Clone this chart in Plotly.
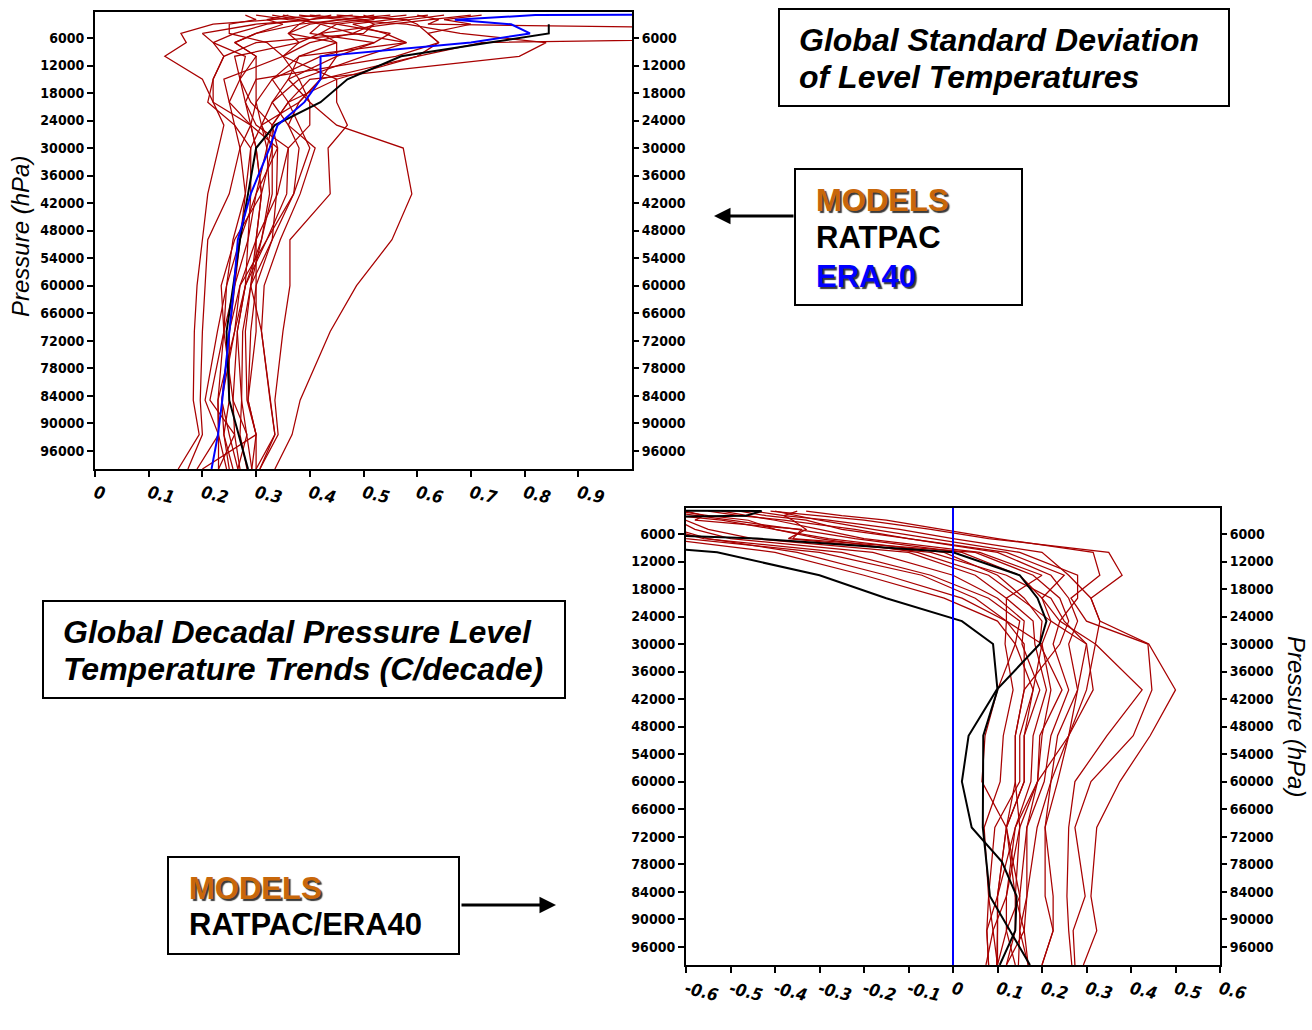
import plotly.graph_objects as go

# ---------------- data ----------------
levels = [1000, 2000, 3000, 5000, 7000, 10000, 15000, 20000, 25000, 30000,
          40000, 50000, 60000, 70000, 85000, 92500, 100000]

ratpac_levels = [3000, 5000, 7000, 10000, 15000, 20000, 25000, 30000, 40000,
                 50000, 70000, 85000, 100000]
era40_levels = [500, 700, 1000, 2000, 3000, 5000, 7000, 10000, 15000, 20000, 25000,
                30000, 40000, 50000, 60000, 70000, 77500, 85000, 92500, 100000]

# Panel 1: standard deviation of level temperatures (models)
sd_models = [
    [0.42, 0.33, 0.22, 0.16, 0.17, 0.13, 0.20, 0.22, 0.24, 0.23, 0.21, 0.20, 0.19, 0.185, 0.183, 0.194, 0.155],
    [0.48, 0.40, 0.30, 0.20, 0.22, 0.24, 0.22, 0.21, 0.26, 0.27, 0.25, 0.21, 0.205, 0.20, 0.196, 0.20, 0.173],
    [0.55, 0.46, 0.40, 0.36, 0.45, 0.38, 0.36, 0.40, 0.45, 0.574, 0.59, 0.553, 0.487, 0.438, 0.382, 0.367, 0.335],
    [0.50, 0.52, 0.45, 0.42, 0.38, 0.35, 0.45, 0.45, 0.47, 0.434, 0.438, 0.363, 0.363, 0.35, 0.335, 0.341, 0.307],
    [0.60, 0.64, 0.62, 1.90, 0.72, 0.60, 0.42, 0.38, 0.36, 0.41, 0.382, 0.345, 0.315, 0.31, 0.326, 0.335, 0.30],
    [0.38, 0.46, 0.58, 0.68, 0.84, 0.79, 0.40, 0.36, 0.33, 0.34, 0.338, 0.33, 0.30, 0.29, 0.285, 0.30, 0.292],
    [0.30, 0.36, 0.45, 0.55, 0.52, 0.42, 0.33, 0.30, 0.29, 0.30, 0.31, 0.30, 0.29, 0.275, 0.273, 0.27, 0.283],
    [0.65, 0.58, 0.52, 0.48, 0.58, 0.50, 0.38, 0.33, 0.31, 0.32, 0.325, 0.31, 0.28, 0.265, 0.257, 0.283, 0.266],
    [0.35, 0.40, 0.38, 0.30, 0.26, 0.30, 0.27, 0.25, 0.26, 0.29, 0.28, 0.27, 0.26, 0.25, 0.236, 0.24, 0.257],
    [0.45, 0.58, 0.60, 0.62, 0.64, 0.56, 0.30, 0.28, 0.30, 0.36, 0.357, 0.32, 0.27, 0.26, 0.229, 0.23, 0.245],
    [0.28, 0.30, 0.25, 0.25, 0.32, 0.35, 0.24, 0.25, 0.29, 0.34, 0.30, 0.285, 0.26, 0.24, 0.214, 0.26, 0.23],
    [0.70, 0.62, 0.55, 0.42, 0.45, 0.45, 0.36, 0.33, 0.36, 0.38, 0.37, 0.33, 0.29, 0.28, 0.283, 0.30, 0.20],
    [0.52, 0.46, 0.38, 0.36, 0.38, 0.26, 0.27, 0.29, 0.33, 0.32, 0.30, 0.27, 0.245, 0.228, 0.205, 0.23, 0.19],
    [0.40, 0.50, 0.52, 0.50, 0.30, 0.24, 0.22, 0.22, 0.29, 0.30, 0.31, 0.26, 0.235, 0.24, 0.257, 0.26, 0.27],
    [0.62, 0.55, 0.48, 0.54, 0.58, 0.38, 0.33, 0.36, 0.38, 0.40, 0.37, 0.32, 0.28, 0.265, 0.273, 0.283, 0.292],
    [0.33, 0.38, 0.42, 0.48, 0.40, 0.35, 0.38, 0.40, 0.40, 0.36, 0.34, 0.30, 0.27, 0.25, 0.25, 0.24, 0.25],
    [0.58, 0.50, 0.42, 0.40, 0.52, 0.45, 0.42, 0.38, 0.31, 0.29, 0.29, 0.285, 0.28, 0.26, 0.236, 0.25, 0.266],
    [0.72, 0.65, 0.70, 0.62, 0.64, 0.60, 0.45, 0.36, 0.33, 0.33, 0.31, 0.30, 0.30, 0.30, 0.285, 0.30, 0.30],
    [0.36, 0.32, 0.35, 0.30, 0.26, 0.30, 0.30, 0.30, 0.31, 0.33, 0.33, 0.31, 0.29, 0.31, 0.326, 0.335, 0.307],
    [0.44, 0.40, 0.32, 0.26, 0.22, 0.28, 0.27, 0.28, 0.29, 0.27, 0.28, 0.257, 0.245, 0.24, 0.229, 0.23, 0.23],
]
sd_ratpac = [0.845, 0.845, 0.735, 0.57, 0.47, 0.42, 0.335, 0.30, 0.285, 0.27, 0.245, 0.25, 0.285]
sd_era40 = [1.6, 1.4, 0.82, 0.67, 0.775, 0.81, 0.70, 0.42, 0.42, 0.39, 0.34, 0.325, 0.29,
            0.266, 0.259, 0.25, 0.244, 0.237, 0.229, 0.217]

# Panel 2: decadal trends (C/decade)
trend_models = [
    [-0.41, -0.30, -0.20, -0.05, 0.08, 0.35, 0.38, 0.31, 0.33, 0.44, 0.50, 0.443, 0.375, 0.323, 0.31, 0.323, 0.293],
    [-0.33, -0.25, -0.15, -0.02, 0.10, 0.315, 0.33, 0.265, 0.30, 0.438, 0.447, 0.405, 0.31, 0.274, 0.297, 0.27, 0.274],
    [-0.45, -0.38, -0.28, -0.12, 0.00, 0.20, 0.26, 0.31, 0.33, 0.32, 0.425, 0.346, 0.274, 0.26, 0.256, 0.26, 0.267],
    [-0.55, -0.48, -0.38, -0.22, -0.10, 0.12, 0.25, 0.20, 0.22, 0.30, 0.315, 0.26, 0.235, 0.207, 0.207, 0.225, 0.20],
    [-0.48, -0.42, -0.33, -0.25, -0.10, 0.10, 0.22, 0.26, 0.28, 0.26, 0.28, 0.235, 0.22, 0.189, 0.166, 0.16, 0.169],
    [-0.65, -0.58, -0.50, -0.35, -0.22, 0.02, 0.15, 0.20, 0.24, 0.225, 0.26, 0.22, 0.205, 0.166, 0.15, 0.15, 0.147],
    [-0.70, -0.62, -0.52, -0.40, -0.28, -0.02, 0.10, 0.16, 0.20, 0.195, 0.245, 0.195, 0.19, 0.15, 0.14, 0.14, 0.12],
    [-0.75, -0.68, -0.60, -0.55, -0.45, -0.10, 0.05, 0.12, 0.18, 0.184, 0.21, 0.18, 0.175, 0.14, 0.12, 0.12, 0.10],
    [-0.80, -0.70, -0.62, -0.58, -0.50, -0.18, 0.00, 0.10, 0.16, 0.155, 0.195, 0.16, 0.16, 0.12, 0.10, 0.10, 0.098],
    [-0.85, -0.75, -0.66, -0.64, -0.56, -0.25, -0.05, 0.08, 0.15, 0.14, 0.18, 0.15, 0.15, 0.094, 0.08, 0.09, 0.074],
    [-0.90, -0.80, -0.70, -0.68, -0.60, -0.30, -0.07, 0.05, 0.12, 0.117, 0.135, 0.113, 0.106, 0.07, 0.08, 0.076, 0.08],
    [-0.35, -0.38, -0.36, -0.33, -0.37, -0.05, 0.12, 0.22, 0.25, 0.30, 0.28, 0.26, 0.19, 0.14, 0.10, 0.10, 0.10],
    [-0.60, -0.56, -0.58, -0.34, -0.36, 0.05, 0.18, 0.24, 0.26, 0.24, 0.16, 0.14, 0.14, 0.12, 0.14, 0.16, 0.12],
    [-0.95, -0.85, -0.75, -0.70, -0.65, -0.40, -0.20, -0.02, 0.10, 0.14, 0.10, 0.072, 0.065, 0.12, 0.15, 0.12, 0.14],
    [-0.88, -0.80, -0.72, -0.62, -0.55, -0.35, -0.15, 0.02, 0.12, 0.16, 0.16, 0.14, 0.14, 0.15, 0.12, 0.09, 0.10],
    [-0.52, -0.46, -0.40, -0.30, -0.20, 0.06, 0.20, 0.12, 0.12, 0.20, 0.18, 0.16, 0.16, 0.12, 0.10, 0.076, 0.08],
    [-0.40, -0.35, -0.30, -0.18, -0.05, 0.15, 0.28, 0.28, 0.24, 0.32, 0.30, 0.26, 0.22, 0.207, 0.225, 0.225, 0.20],
    [-0.62, -0.55, -0.46, -0.40, -0.30, -0.08, 0.08, 0.15, 0.22, 0.20, 0.22, 0.20, 0.19, 0.166, 0.166, 0.15, 0.169],
]
trend_ratpac = [-1.6, -1.3, -0.9, -0.53, -0.30, -0.15, 0.02, 0.09, 0.10, 0.068, 0.067, 0.083, 0.173]
trend_era40 = [-1.5, -1.5, -0.43, -0.465, -1.3, -1.0, -0.44, 0.0, 0.15, 0.19, 0.21, 0.195, 0.098,
               0.035, 0.02, 0.042, 0.11, 0.143, 0.14, 0.105]

zero_line = [0, 0]
zero_line_p = [0, 100000]

p_ticks = [6000, 12000, 18000, 24000, 30000, 36000, 42000, 48000, 54000, 60000,
           66000, 72000, 78000, 84000, 90000, 96000]
p_labels = ["6000", "12000", "18000", "24000", "30000", "36000", "42000", "48000", "54000",
            "60000", "66000", "72000", "78000", "84000", "90000", "96000"]
sd_xticks = [0, 0.1, 0.2, 0.3, 0.4, 0.5, 0.6, 0.7, 0.8, 0.9]
sd_xlabels = ["0", "0.1", "0.2", "0.3", "0.4", "0.5", "0.6", "0.7", "0.8", "0.9"]
tr_xticks = [-0.6, -0.5, -0.4, -0.3, -0.2, -0.1, 0, 0.1, 0.2, 0.3, 0.4, 0.5, 0.6]
tr_xlabels = ["-0.6", "-0.5", "-0.4", "-0.3", "-0.2", "-0.1", "0", "0.1", "0.2", "0.3",
              "0.4", "0.5", "0.6"]

# ---------------- figure ----------------
W, H = 1312, 1030
RED = "#A80000"
ORANGE = "#C8670A"

def px(x):
    return x / W

def py(y):
    return 1 - y / H

fig = go.Figure()

for vals in sd_models:
    fig.add_trace(go.Scatter(x=vals, y=levels, mode="lines", xaxis="x", yaxis="y",
                             line=dict(color=RED, width=1.25), showlegend=False, hoverinfo="skip"))
fig.add_trace(go.Scatter(x=sd_ratpac, y=ratpac_levels, mode="lines", xaxis="x", yaxis="y",
                         line=dict(color="black", width=2), showlegend=False))
fig.add_trace(go.Scatter(x=sd_era40, y=era40_levels, mode="lines", xaxis="x", yaxis="y",
                         line=dict(color="#0000FF", width=2), showlegend=False))

for vals in trend_models:
    fig.add_trace(go.Scatter(x=vals, y=levels, mode="lines", xaxis="x3", yaxis="y3",
                             line=dict(color=RED, width=1.25), showlegend=False, hoverinfo="skip"))
fig.add_trace(go.Scatter(x=trend_ratpac, y=ratpac_levels, mode="lines", xaxis="x3", yaxis="y3",
                         line=dict(color="black", width=2), showlegend=False))
fig.add_trace(go.Scatter(x=trend_era40, y=era40_levels, mode="lines", xaxis="x3", yaxis="y3",
                         line=dict(color="black", width=2), showlegend=False))
fig.add_trace(go.Scatter(x=zero_line, y=zero_line_p, mode="lines", xaxis="x3", yaxis="y3",
                         line=dict(color="#0000FF", width=2), showlegend=False))

# invisible traces so that right-hand axes render
fig.add_trace(go.Scatter(x=[None], y=[None], xaxis="x", yaxis="y2", showlegend=False))
fig.add_trace(go.Scatter(x=[None], y=[None], xaxis="x3", yaxis="y4", showlegend=False))

NARROW = "Liberation Sans Narrow, Arial Narrow, DejaVu Sans Condensed, sans-serif"
yfont = dict(family=NARROW, size=14, color="black", weight="bold")
xfont = dict(family=NARROW, size=17, color="black", weight="bold", style="italic")

YR = [100000, 330]

common_y = dict(range=YR, tickvals=p_ticks, ticktext=p_labels, ticks="outside", ticklen=6,
                tickwidth=2, tickcolor="black", showgrid=False, zeroline=False,
                tickfont=yfont, automargin=False)

top_x = [px(95), px(632)]
top_y = [py(469), py(12)]
bot_x = [px(686), px(1220)]
bot_y = [py(965), py(508)]

fig.update_layout(
    width=W, height=H, autosize=False,
    margin=dict(l=0, r=0, t=0, b=0, pad=0, autoexpand=False),
    paper_bgcolor="white", plot_bgcolor="white",
    showlegend=False,
    xaxis=dict(domain=top_x, range=[0, 1], anchor="y", tickvals=sd_xticks, ticktext=sd_xlabels,
               ticks="outside", ticklen=6, tickwidth=2, tickcolor="black", tickangle=14,
               showline=True, linewidth=2, linecolor="black", mirror=True,
               showgrid=False, zeroline=False, tickfont=xfont, automargin=False),
    yaxis=dict(domain=top_y, anchor="x", showline=True, linewidth=2, linecolor="black",
               mirror=True, **common_y),
    yaxis2=dict(overlaying="y", side="right", anchor="x", showline=False, **common_y),
    xaxis3=dict(domain=bot_x, range=[-0.6, 0.6], anchor="y3", tickvals=tr_xticks, ticktext=tr_xlabels,
                ticks="outside", ticklen=6, tickwidth=2, tickcolor="black", tickangle=14,
                showline=True, linewidth=2, linecolor="black", mirror=True,
                showgrid=False, zeroline=False, tickfont=xfont, automargin=False),
    yaxis3=dict(domain=bot_y, anchor="x3", showline=True, linewidth=2, linecolor="black",
                mirror=True, **common_y),
    yaxis4=dict(overlaying="y3", side="right", anchor="x3", showline=False, **common_y),
)

# ---------------- boxes, texts, arrows ----------------
shapes = []
for (x0, y0, x1, y1) in [(779, 9, 1229, 106), (795, 169, 1022, 305),
                         (43, 601, 565, 698), (168, 857, 459, 954)]:
    shapes.append(dict(type="rect", xref="paper", yref="paper",
                       x0=px(x0), x1=px(x1), y0=py(y1), y1=py(y0),
                       line=dict(color="black", width=2), fillcolor="white", layer="above"))
fig.update_layout(shapes=shapes)

BOLD = "Liberation Sans, Arial, sans-serif"
SHADOW = "2px 2px 1px #3a3a3a"

def label(x, y, text, color="black", italic=False, shadow=None, size=32):
    f = dict(family=BOLD, size=size, color=color, weight="bold")
    if italic:
        f["style"] = "italic"
    if shadow:
        f["shadow"] = shadow
    fig.add_annotation(x=px(x), y=py(y), xref="paper", yref="paper", text=text,
                       showarrow=False, xanchor="left", yanchor="middle", font=f)

label(797, 40, "Global Standard Deviation", italic=True)
label(797, 77, "of Level Temperatures", italic=True)
label(814, 201, "MODELS", color=ORANGE, shadow=SHADOW, size=31)
label(814, 237, "RATPAC", size=31)
label(814, 277, "ERA40", color="#0000FF", shadow=SHADOW, size=31)
label(61, 632, "Global Decadal Pressure Level", italic=True)
label(61, 669, "Temperature Trends (C/decade)", italic=True)
label(187, 888, "MODELS", color=ORANGE, shadow=SHADOW, size=31)
label(187, 924, "RATPAC/ERA40", size=31)

# axis titles
fig.add_annotation(x=px(20), y=py(237), xref="paper", yref="paper", text="Pressure (hPa)",
                   showarrow=False, textangle=-90, xanchor="center", yanchor="middle",
                   font=dict(family="Liberation Sans, Arial, sans-serif", size=24,
                             color="black", style="italic"))
fig.add_annotation(x=px(1297), y=py(716), xref="paper", yref="paper", text="Pressure (hPa)",
                   showarrow=False, textangle=90, xanchor="center", yanchor="middle",
                   font=dict(family="Liberation Sans, Arial, sans-serif", size=24,
                             color="black", style="italic"))

# arrows
fig.add_annotation(x=px(714), y=py(216), xref="paper", yref="paper", text="",
                   showarrow=True, ax=81, ay=0, arrowhead=2, arrowsize=1.1,
                   arrowwidth=3, arrowcolor="black")
fig.add_annotation(x=px(556), y=py(905), xref="paper", yref="paper", text="",
                   showarrow=True, ax=-96, ay=0, arrowhead=2, arrowsize=1.1,
                   arrowwidth=3, arrowcolor="black")

fig.write_html("out.html")
